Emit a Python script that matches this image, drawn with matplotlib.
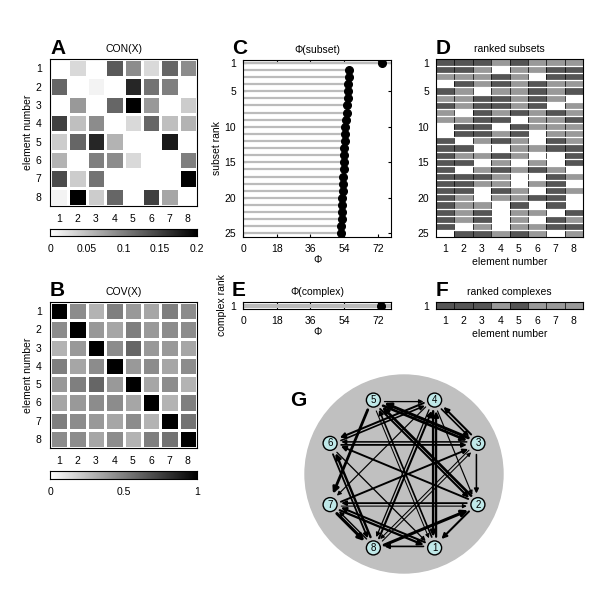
import numpy as np
import matplotlib
matplotlib.use("Agg")
import matplotlib.pyplot as plt
from matplotlib.patches import Circle, FancyArrowPatch
from matplotlib.colors import ListedColormap

plt.rcParams['font.family'] = ['Liberation Sans', 'DejaVu Sans']

elements = [1, 2, 3, 4, 5, 6, 7, 8]
con = np.array([
    [0, 0.03, 0, 0.13, 0.09, 0.03, 0.12, 0.09],
    [0.12, 0, 0.01, 0, 0.17, 0.11, 0.10, 0],
    [0, 0.08, 0, 0.12, 0.20, 0.08, 0, 0.04],
    [0.15, 0.05, 0.09, 0, 0.03, 0.12, 0.05, 0.06],
    [0.04, 0.12, 0.17, 0.06, 0, 0, 0.18, 0],
    [0.06, 0, 0.10, 0.09, 0.03, 0, 0, 0.10],
    [0.14, 0.04, 0.11, 0, 0, 0, 0, 0.20],
    [0.01, 0.20, 0.04, 0.12, 0, 0.15, 0.07, 0]])
cov = np.array([
    [1, .45, .3, .5, .4, .35, .5, .45],
    [.45, 1, .4, .35, .5, .4, .45, .45],
    [.3, .4, 1, .45, .6, .4, .4, .35],
    [.5, .35, .45, 1, .4, .45, .35, .45],
    [.4, .5, .6, .4, 1, .35, .45, .3],
    [.35, .4, .45, .45, .35, 1, .3, .5],
    [.5, .45, .4, .35, .45, .3, 1, .55],
    [.45, .45, .35, .45, .3, .5, .55, 1]])
phi_subset = [74, 56.5, 56.5, 56.2, 56, 55.8, 55.6, 55.5, 55, 54.5, 54.5, 54.2, 54,
              54, 54, 53.8, 53.6, 53.5, 53.3, 53, 53, 52.8, 52.7, 52.5, 52.3]
phi_complex = [73.9]
subsets = np.array([
    [2,2,2,1,2,1,1,1],[2,2,1,0,1,1,2,2],[1,1,1,2,1,0,2,2],[0,2,1,2,1,2,1,1],
    [2,1,0,1,1,2,1,2],[1,1,2,2,1,2,1,0],[2,1,2,2,1,2,0,1],[1,0,2,1,2,1,2,1],
    [1,1,2,2,0,1,1,2],[0,2,2,0,2,1,1,1],[0,2,2,1,2,0,1,1],[2,0,1,2,1,0,2,1],
    [2,2,0,0,1,1,2,2],[2,1,1,2,1,0,0,2],[2,2,0,1,0,1,0,2],[2,0,1,2,1,2,1,0],
    [2,2,2,1,0,0,2,1],[2,2,1,1,0,1,2,0],[2,2,0,2,1,0,2,1],[2,1,0,1,1,2,2,0],
    [2,1,1,0,2,0,2,0],[2,1,2,0,1,1,0,2],[2,1,2,0,1,0,2,1],[2,0,1,0,1,1,2,2],
    [0,2,2,1,2,1,0,1]])
complexes = np.array([[2,2,2,1,2,1,1,1]])

fig = plt.figure(figsize=(6, 6), dpi=100)
W = 600.0
def ax_px(x0, y0, x1, y1):
    return fig.add_axes([x0/W, 1-y1/W, (x1-x0)/W, (y1-y0)/W])

FS = 7.5
def heat(ax, M, vmax, title):
    ax.pcolormesh(np.arange(0.5, 9.5), np.arange(0.5, 9.5), M, cmap='gray_r', vmin=0, vmax=vmax,
                  edgecolors='white', linewidth=1)
    ax.set_xlim(0.5, 8.5); ax.set_ylim(8.5, 0.5)
    ax.set_xticks(elements); ax.set_yticks(elements)
    ax.tick_params(length=0, labelsize=FS, pad=6)
    ax.set_title(title, fontsize=FS, pad=5)
    ax.set_ylabel('element number', fontsize=FS, labelpad=2)

def cbar(x0, y0, x1, y1, vmax, ticks, labels):
    cax = ax_px(x0, y0, x1, y1)
    cax.imshow(np.linspace(0, vmax, 256)[None, :], aspect='auto', cmap='gray_r', vmin=0, vmax=vmax,
               extent=[0, vmax, 0, 1])
    cax.set_yticks([]); cax.set_xticks(ticks); cax.set_xticklabels(labels)
    cax.tick_params(length=0, labelsize=FS, pad=6)

axA = ax_px(50, 59, 197, 206)
heat(axA, con, 0.2, 'CON(X)')
cbar(50, 229, 197, 236, 0.2, [0, 0.05, 0.1, 0.15, 0.2], ['0', '0.05', '0.1', '0.15', '0.2'])
axB = ax_px(50, 302, 197, 448)
heat(axB, cov, 1.0, 'COV(X)')
cbar(50, 471, 197, 479, 1.0, [0, 0.5, 1], ['0', '0.5', '1'])

axC = ax_px(243, 60, 391, 237)
ranks = np.arange(1, len(phi_subset)+1)
axC.hlines(ranks, 0, phi_subset, color='#bbbbbb', linewidth=1.6)
axC.hlines([1], 0, 79, color='#bbbbbb', linewidth=1.6)
axC.plot(phi_subset, ranks, 'o', color='black', markersize=5.5)
axC.set_xlim(0, 79); axC.set_ylim(25.5, 0.6)
axC.set_xticks([0, 18, 36, 54, 72]); axC.set_yticks([1, 5, 10, 15, 20, 25])
axC.tick_params(direction='in', length=2, labelsize=FS, top=True, right=True, pad=5)
axC.set_title('Φ(subset)', fontsize=FS, pad=5)
axC.set_ylabel('subset rank', fontsize=FS, labelpad=2)
axC.set_xlabel('Φ', fontsize=FS, labelpad=1)

axE = ax_px(243, 302, 391, 309)
axE.hlines([1], 0, 79, color='#bbbbbb', linewidth=3)
axE.plot(phi_complex, [1], 'o', color='black', markersize=5.5)
axE.set_xlim(0, 79); axE.set_ylim(1.5, 0.5)
axE.set_xticks([0, 18, 36, 54, 72]); axE.set_yticks([1])
axE.tick_params(direction='in', length=2, labelsize=FS, top=True, right=True, pad=5)
axE.set_title('Φ(complex)', fontsize=FS, pad=5)
axE.set_ylabel('complex rank', fontsize=FS, labelpad=2)
axE.set_xlabel('Φ', fontsize=FS, labelpad=1)

cmapD = ListedColormap(['white', '#999999', '#555555'])
def ranked(ax, M, yt, title):
    n = M.shape[0]
    ax.pcolormesh(np.arange(0.5, 9.5), np.arange(0.5, n+1), M, cmap=cmapD, vmin=0, vmax=2,
                  edgecolors='face', linewidth=0)
    for i in range(1, 8):
        ax.axvline(i+0.5, color='black', linewidth=0.5)
    for r in range(1, n):
        ax.axhline(r+0.5, color='white', linewidth=0.9)
    ax.set_xlim(0.5, 8.5); ax.set_ylim(n+0.5, 0.5)
    ax.set_xticks(elements); ax.set_yticks(yt)
    ax.tick_params(length=0, labelsize=FS, pad=5)
    ax.set_title(title, fontsize=FS, pad=5)
    ax.set_xlabel('element number', fontsize=FS, labelpad=2)

axD = ax_px(436, 59, 583, 237)
ranked(axD, subsets, [1, 5, 10, 15, 20, 25], 'ranked subsets')
axF = ax_px(436, 302, 583, 309)
ranked(axF, complexes, [1], 'ranked complexes')

axG = ax_px(295, 365, 515, 585)
axG.set_xlim(295, 515); axG.set_ylim(585, 365); axG.axis('off')
cx, cy, R = 404, 474, 80
axG.add_patch(Circle((cx, cy), 99, color='#c0c0c0', zorder=0))
ang = {3: 22.5, 4: 67.5, 5: 112.5, 6: 157.5, 7: 202.5, 8: 247.5, 1: 292.5, 2: 337.5}
pos = {k: (cx + R*np.cos(np.radians(a)), cy - R*np.sin(np.radians(a))) for k, a in ang.items()}
for i in range(8):
    for j in range(8):
        w = con[i, j]
        if w < 0.04:
            continue
        p, q = pos[i+1], pos[j+1]
        d = np.array(q) - np.array(p); d /= np.linalg.norm(d)
        nrm = np.array([-d[1], d[0]]) * 1.5
        lw = 0.4 + w * 9
        arr = FancyArrowPatch(np.array(p) + nrm, np.array(q) + nrm,
                              arrowstyle='-|>', mutation_scale=5 + w*20,
                              linewidth=lw, color='black', shrinkA=8, shrinkB=8, zorder=2)
        axG.add_patch(arr)
for k, (x, y) in pos.items():
    axG.add_patch(Circle((x, y), 7, facecolor='#bfe8e8', edgecolor='black', linewidth=1, zorder=3))
    axG.text(x, y, str(k), ha='center', va='center', fontsize=7, zorder=4)

for L, x, y in [('A', 50, 48), ('B', 50, 291), ('C', 232, 48), ('D', 436, 48),
                ('E', 232, 291), ('F', 436, 291), ('G', 290, 400)]:
    fig.text(x/W, 1-y/W, L, fontsize=15, fontweight='bold', va='center', ha='left')

fig.savefig('out.png', dpi=100)
